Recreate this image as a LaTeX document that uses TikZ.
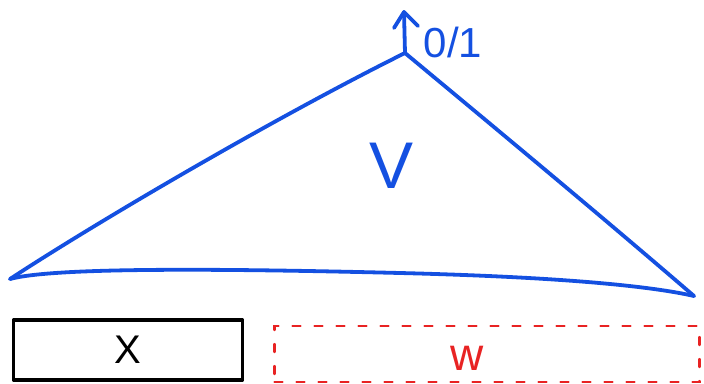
\documentclass[tikz,border=0pt]{standalone}
\usepackage{fontspec}
\setmainfont{Liberation Sans}
\definecolor{penblue}{RGB}{20,80,225}
\definecolor{penred}{RGB}{232,35,35}
\tikzset{
  blueline/.style={draw=penblue,line width=3.8pt,line cap=round,line join=round},
  blackbox/.style={draw=black,line width=3.8pt,line cap=round,line join=round},
  redbox/.style={draw=penred,line width=2.4pt,dash pattern=on 8pt off 14pt,line cap=round},
  lbl/.style={inner sep=0pt}
}
\begin{document}
\begin{tikzpicture}[x=1pt,y=-1pt]
\useasboundingbox (0,0) rectangle (704,383);
\coordinate (L) at (10,279);
\coordinate (A) at (405,53);
\coordinate (R) at (694,296);
\coordinate (T) at (404,12);
% triangle
\draw[blueline] (L) .. controls (100,220) and (280,115) .. (A);
\draw[blueline] (A) .. controls (500,132) and (600,215) .. (R);
\draw[blueline] (L) .. controls (50,268) and (200,268) .. (400,273)
  .. controls (560,277) and (650,286) .. (R);
% arrow
\draw[blueline] (A) -- (T);
\draw[blueline] (394,28) -- (T) -- (418,26);
\node[lbl,text=penblue,font=\fontsize{42}{42}\selectfont] (top) at (453,42) {0/1};
\node[lbl,text=penblue,font=\fontsize{66}{66}\selectfont] (v) at (392,166) {V};
% boxes
\node[blackbox,minimum width=229pt,minimum height=60pt,inner sep=0pt] (xbox) at (128,350) {};
\node[lbl,font=\fontsize{40}{40}\selectfont] (x) at (xbox.center) {X};
\node[redbox,minimum width=425pt,minimum height=56pt,inner sep=0pt] (wbox) at (487,354) {};
\node[lbl,text=penred,font=\fontsize{46}{46}\selectfont] (w) at (467,358) {w};
\end{tikzpicture}
\end{document}
